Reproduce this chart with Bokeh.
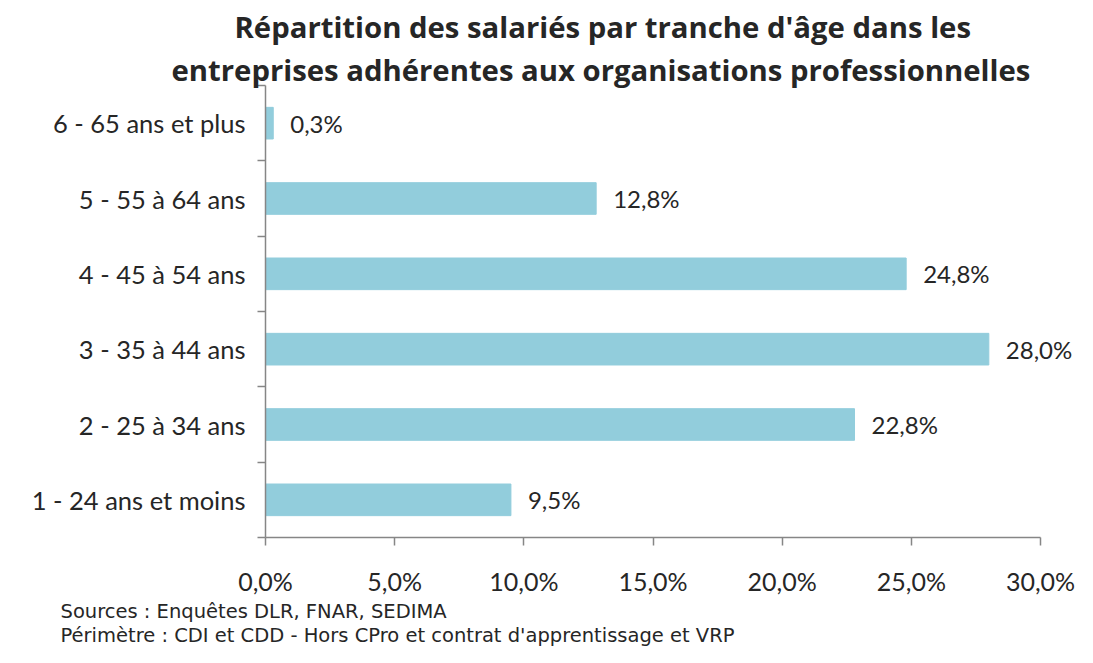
from bokeh.plotting import figure
from bokeh.models import ColumnDataSource, FixedTicker, LabelSet, Range1d, Title
from bokeh.core.properties import value
from bokeh.embed import file_html
from bokeh.resources import INLINE

# ---- data ----
categories = [
    "1 - 24 ans et moins",
    "2 - 25 à 34 ans",
    "3 - 35 à 44 ans",
    "4 - 45 à 54 ans",
    "5 - 55 à 64 ans",
    "6 - 65 ans et plus",
]
values = [9.5, 22.8, 28.0, 24.8, 12.8, 0.3]
x_ticks = [0, 5, 10, 15, 20, 25, 30]
x_tick_labels = ["0,0%", "5,0%", "10,0%", "15,0%", "20,0%", "25,0%", "30,0%"]
title_lines = [
    "Répartition des salariés par tranche d'âge dans les",
    "entreprises adhérentes aux organisations professionnelles",
]
footer_lines = [
    "Sources : Enquêtes DLR, FNAR, SEDIMA",
    "Périmètre : CDI et CDD  - Hors CPro et contrat d'apprentissage et VRP",
]

# ---- layout ----
W, H = 1077, 647
FL, FR, FT, FB = 265, 1040, 77, 537  # axis extents in canvas px
XMAX = 30
N = len(categories)
x_end = XMAX * (W - FL) / (FR - FL)   # frame extends to right canvas edge

FONT = "Lato"
TXT = "#262626"
AX = "#868686"

pos = [i + 0.5 for i in range(N)]
labels = [f"{v:.1f}".replace(".", ",") + "%" for v in values]
src = ColumnDataSource(dict(y=pos, v=values, lab=labels))

p = figure(width=W, height=H, x_range=Range1d(0, x_end), y_range=Range1d(0, N),
           output_backend="svg", toolbar_location=None,
           min_border_left=FL, min_border_right=0,
           min_border_top=FT, min_border_bottom=H - FB)
p.outline_line_color = None
p.grid.visible = False
p.background_fill_color = "white"
p.border_fill_color = "white"

p.hbar(y="y", right="v", left=0, height=0.42, color="#92CDDC", source=src)

p.add_layout(LabelSet(x="v", y="y", text="lab", source=src, x_offset=17,
                      text_baseline="middle", text_align="left",
                      text_font=value(FONT), text_font_size="24px", text_color=TXT))

# x axis
xa = p.xaxis[0]
xa.bounds = (0, XMAX)
xa.ticker = FixedTicker(ticks=x_ticks)
xa.major_label_overrides = {t: l for t, l in zip(x_ticks, x_tick_labels)}
xa.axis_line_color = AX
xa.axis_line_width = 1.5
xa.major_tick_line_color = AX
xa.major_tick_line_width = 1.5
xa.major_tick_in = 0
xa.major_tick_out = 8
xa.minor_tick_line_color = None
xa.major_label_standoff = 20
xa.major_label_text_font = FONT
xa.major_label_text_font_size = "25px"
xa.major_label_text_color = TXT
xa.axis_label_standoff = 0

# y axis
ya = p.yaxis[0]
ya.bounds = (0, N)
ya.ticker = FixedTicker(ticks=pos, minor_ticks=list(range(N + 1)))
ya.major_label_overrides = {t: c for t, c in zip(pos, categories)}
ya.axis_line_color = AX
ya.axis_line_width = 1.5
ya.major_tick_line_color = None
ya.major_tick_in = 0
ya.major_tick_out = 0
ya.minor_tick_line_color = AX
ya.minor_tick_line_width = 1.5
ya.minor_tick_in = 0
ya.minor_tick_out = 8
ya.major_label_standoff = 12
ya.major_label_text_font = FONT
ya.major_label_text_font_size = "25.5px"
ya.major_label_text_color = TXT

# titles (above panel; stacked from the top, last added is the top line)
for txt, off, so in zip(reversed(title_lines), [-94, -31], [-8, 9]):
    p.add_layout(Title(text=txt, align="left", offset=off, standoff=so,
                       text_font="Open Sans", text_font_style="bold",
                       text_font_size="29.3px", text_color=TXT), "above")

# footer (below the x axis, stacked from the axis downwards)
for txt, so in zip(footer_lines, [-2, 0]):
    p.add_layout(Title(text=txt, align="left", offset=-(FL - 60), standoff=so,
                       text_font="DejaVu Sans", text_font_style="normal",
                       text_font_size="19.5px", text_color=TXT), "below")

open("out.html", "w").write(file_html(p, INLINE))
